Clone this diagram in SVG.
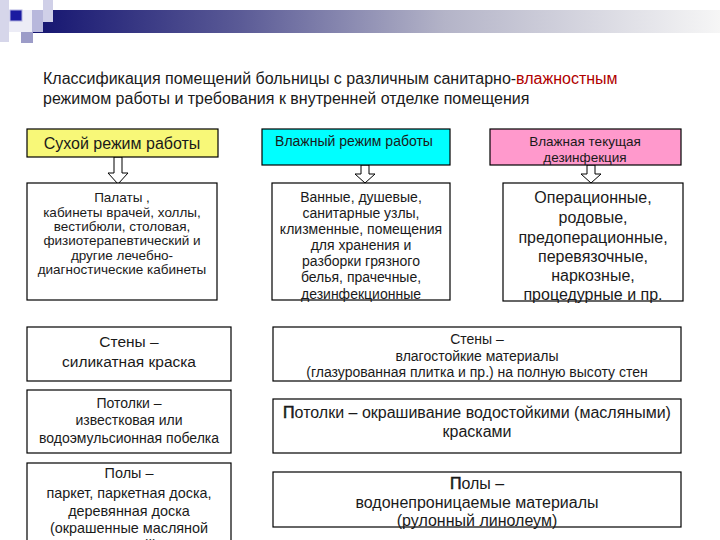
<svg xmlns="http://www.w3.org/2000/svg" width="720" height="540" viewBox="0 0 720 540">
<defs>
<linearGradient id="bar" x1="0" y1="0" x2="1" y2="0">
<stop offset="0" stop-color="#141470"/>
<stop offset="0.3" stop-color="#5a5a96"/>
<stop offset="0.6" stop-color="#b4b4c8"/>
<stop offset="1" stop-color="#f6f6f6"/>
</linearGradient>
<style>
text{font-family:"Liberation Sans",Arial,sans-serif;fill:#1a1a1a;text-anchor:middle}
.box{fill:#fff;stroke:#000;stroke-width:1.2}
.arr{fill:#fff;stroke:#000;stroke-width:1}
.t{text-anchor:start;font-size:16px}
.b{stroke:#1a1a1a;stroke-width:0.6}
</style>
</defs>
<rect width="720" height="540" fill="#fff"/>
<g id="decor">
<rect x="33" y="10" width="687" height="23" fill="url(#bar)"/>
<rect x="0" y="0" width="9" height="42" fill="#d6d6ea"/>
<rect x="9" y="10" width="24" height="22" fill="#ececf6"/>
<rect x="10" y="10" width="12" height="11" fill="#1a1aa0" stroke="#b0b0e0" stroke-width="1"/>
<rect x="32" y="10" width="11" height="22" fill="#b8b8dc"/>
<rect x="43" y="0" width="10" height="22" fill="#d0d0e8"/>
<rect x="21" y="32" width="12" height="11" fill="#9c9cc8"/>
</g>
<g id="title">
<text class="t" x="43" y="84">Классификация помещений больницы с различным санитарно-<tspan fill="#b00000">влажностным</tspan></text>
<text class="t" x="43" y="104">режимом работы и требования к внутренней отделке помещения</text>
</g>
<g id="connectors">
<polygon class="arr" points="114,157 114,173 108,173 118,184 128,173 122,173 122,157"/>
<polygon class="arr" points="361,165 361,174 355,174 365,183 375,174 369,174 369,165"/>
<polygon class="arr" points="587,165 587,174 581,174 591,183 601,174 595,174 595,165"/>
</g>
<g id="dry">
<rect x="27" y="129" width="191" height="28" fill="#f8f878" stroke="#000" stroke-width="1.2"/>
<text x="122" y="149" font-size="16">Сухой режим работы</text>
</g>
<g id="wet">
<rect x="262" y="129" width="188" height="36" fill="#00ffff" stroke="#000" stroke-width="1.2"/>
<text x="354" y="146" font-size="14">Влажный режим работы</text>
</g>
<g id="disinf">
<rect x="490" y="129" width="191" height="36" fill="#ff99cc" stroke="#000" stroke-width="1.2"/>
<text x="585" y="146" font-size="13.5">Влажная текущая</text>
<text x="585" y="162" font-size="13.5">дезинфекция</text>
</g>
<g id="dry-rooms">
<rect class="box" x="27" y="183" width="190" height="117"/>
<g font-size="13.5">
<text x="122" y="202">Палаты ,</text>
<text x="122" y="217">кабинеты врачей, холлы,</text>
<text x="122" y="231">вестибюли, столовая,</text>
<text x="122" y="245">физиотерапевтический и</text>
<text x="122" y="260">другие лечебно-</text>
<text x="122" y="274">диагностические кабинеты</text>
</g>
</g>
<g id="wet-rooms">
<rect class="box" x="272" y="183" width="178" height="117"/>
<g font-size="14">
<text x="361" y="202">Ванные, душевые,</text>
<text x="361" y="218">санитарные узлы,</text>
<text x="361" y="234">клизменные, помещения</text>
<text x="361" y="250">для хранения и</text>
<text x="361" y="266">разборки грязного</text>
<text x="361" y="282">белья, прачечные,</text>
<text x="361" y="299">дезинфекционные</text>
</g>
</g>
<g id="disinf-rooms">
<rect class="box" x="503" y="183" width="180" height="118"/>
<g font-size="16">
<text x="593" y="203">Операционные,</text>
<text x="593" y="223">родовые,</text>
<text x="593" y="243">предоперационные,</text>
<text x="593" y="262">перевязочные,</text>
<text x="593" y="281">наркозные,</text>
<text x="593" y="300">процедурные и пр.</text>
</g>
</g>
<g id="dry-walls">
<rect class="box" x="27" y="327" width="204" height="54"/>
<text x="129" y="347" font-size="15.5">Стены –</text>
<text x="129" y="367" font-size="15.5">силикатная краска</text>
</g>
<g id="dry-ceiling">
<rect class="box" x="27" y="390" width="204" height="63"/>
<g font-size="14">
<text x="129" y="408">Потолки –</text>
<text x="129" y="425">известковая или</text>
<text x="129" y="443">водоэмульсионная побелка</text>
</g>
</g>
<g id="dry-floor">
<rect class="box" x="27" y="463" width="204" height="90"/>
<g font-size="14.4">
<text x="129" y="478">Полы –</text>
<text x="129" y="498">паркет, паркетная доска,</text>
<text x="129" y="516">деревянная доска</text>
<text x="129" y="533">(окрашенные масляной</text>
<text x="129" y="550">краской)</text>
</g>
</g>
<g id="wet-walls">
<rect class="box" x="273" y="327" width="408" height="54"/>
<g font-size="14">
<text x="477" y="344">Стены –</text>
<text x="477" y="361">влагостойкие материалы</text>
<text x="477" y="377">(глазурованная плитка и пр.) на полную высоту стен</text>
</g>
</g>
<g id="wet-ceiling">
<rect class="box" x="273" y="399" width="408" height="54"/>
<text x="477" y="418" font-size="16"><tspan class="b">П</tspan>отолки – окрашивание водостойкими (масляными)</text>
<text x="477" y="437" font-size="16">красками</text>
</g>
<g id="wet-floor">
<rect class="box" x="273" y="472" width="408" height="55"/>
<text x="477" y="489" font-size="16"><tspan class="b">П</tspan>олы –</text>
<text x="477" y="508" font-size="16">водонепроницаемые материалы</text>
<text x="477" y="526" font-size="16">(рулонный линолеум)</text>
</g>
</svg>
